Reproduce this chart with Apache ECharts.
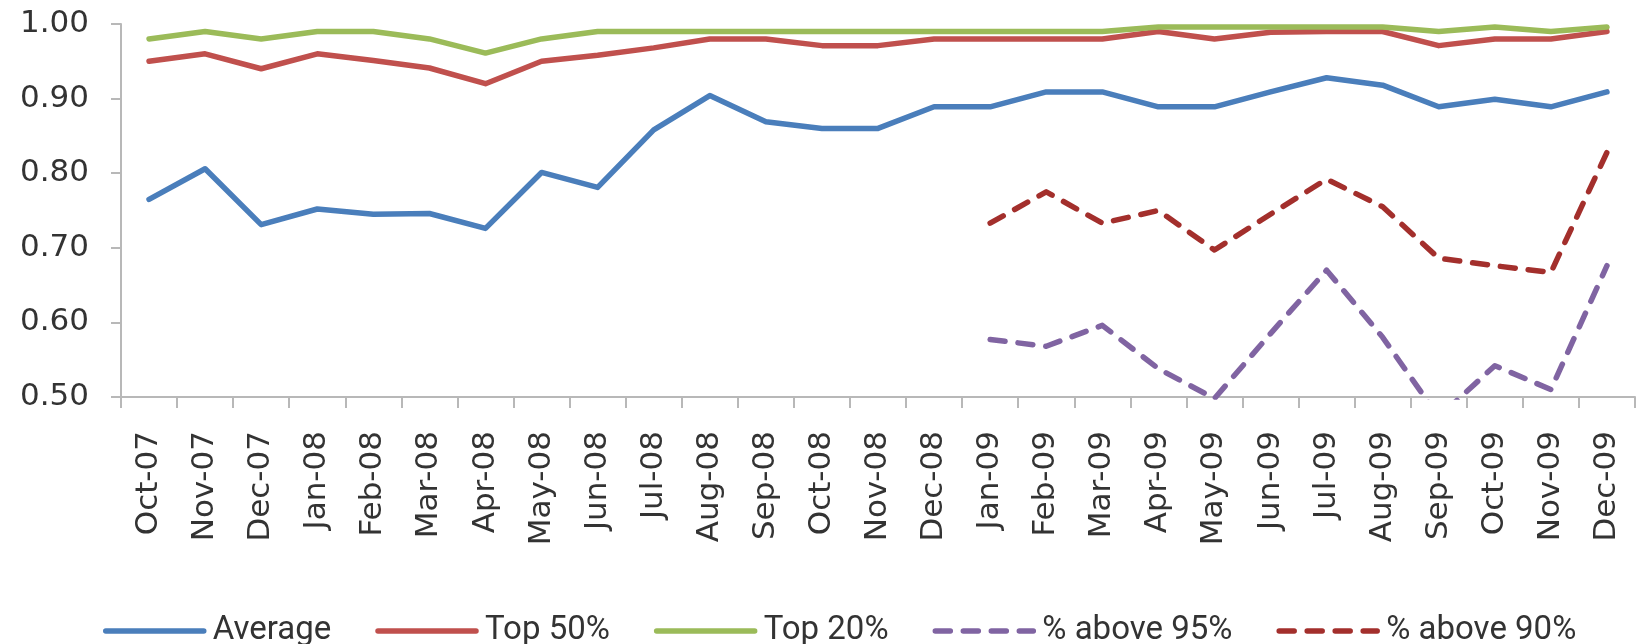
<!DOCTYPE html>
<html>
<head>
<meta charset="utf-8">
<script src="https://cdn.jsdelivr.net/npm/echarts@6/dist/echarts.min.js"></script>
<style>
  html, body { margin: 0; padding: 0; background: #ffffff; }
  #chart { width: 1646px; height: 644px; }
</style>
</head>
<body>
<div id="chart"></div>
<script>
// Monthly categories, Oct 2007 to Dec 2009
const months = [
  'Oct-07', 'Nov-07', 'Dec-07', 'Jan-08', 'Feb-08', 'Mar-08', 'Apr-08', 'May-08', 'Jun-08',
  'Jul-08', 'Aug-08', 'Sep-08', 'Oct-08', 'Nov-08', 'Dec-08', 'Jan-09', 'Feb-09', 'Mar-09',
  'Apr-09', 'May-09', 'Jun-09', 'Jul-09', 'Aug-09', 'Sep-09', 'Oct-09', 'Nov-09', 'Dec-09'
];

const average = [
  0.765, 0.806, 0.731, 0.752, 0.745, 0.746, 0.726, 0.801, 0.781,
  0.858, 0.904, 0.869, 0.860, 0.860, 0.889, 0.889, 0.909, 0.909,
  0.889, 0.889, 0.909, 0.928, 0.918, 0.889, 0.899, 0.889, 0.909
];

const top50 = [
  0.950, 0.960, 0.940, 0.960, 0.951, 0.941, 0.920, 0.950, 0.958,
  0.968, 0.980, 0.980, 0.971, 0.971, 0.980, 0.980, 0.980, 0.980,
  0.990, 0.980, 0.989, 0.990, 0.990, 0.971, 0.980, 0.980, 0.990
];

const top20 = [
  0.980, 0.990, 0.980, 0.990, 0.990, 0.980, 0.961, 0.980, 0.990,
  0.990, 0.990, 0.990, 0.990, 0.990, 0.990, 0.990, 0.990, 0.990,
  0.996, 0.996, 0.996, 0.996, 0.996, 0.990, 0.996, 0.990, 0.996
];

// Share of items above the thresholds, tracked from Jan-09 onward
const above95 = [
  null, null, null, null, null, null, null, null, null,
  null, null, null, null, null, null, 0.577, 0.568, 0.596,
  0.538, 0.498, 0.585, 0.670, 0.580, 0.473, 0.542, 0.510, 0.676
];

const above90 = [
  null, null, null, null, null, null, null, null, null,
  null, null, null, null, null, null, 0.733, 0.775, 0.733,
  0.750, 0.697, 0.745, 0.792, 0.755, 0.686, 0.676, 0.667, 0.828
];

const yTicks = { min: 0.5, max: 1.0, step: 0.1 };

const chart = echarts.init(document.getElementById('chart'), null, { renderer: 'canvas' });

const axisFont = '"DejaVu Sans", Verdana, sans-serif';
const textColor = '#333333';
const axisColor = '#b8b8b8';
const lineWidth = 5.5;
const dashPattern = [15, 13];

function solid(name, data, color) {
  return {
    name, type: 'line', data,
    symbol: 'none', showSymbol: false, connectNulls: false,
    lineStyle: { color, width: lineWidth, cap: 'round', join: 'round' },
    itemStyle: { color }
  };
}
function dashed(name, data, color) {
  return {
    name, type: 'line', data,
    symbol: 'none', showSymbol: false, connectNulls: false,
    lineStyle: { color, width: lineWidth, type: dashPattern, cap: 'round', join: 'round' },
    itemStyle: { color }
  };
}

chart.setOption({
  animation: false,
  backgroundColor: '#ffffff',
  grid: { left: 121, right: 11, top: 24, bottom: 247, containLabel: false },
  legend: {
    top: 609,
    left: 98,
    itemWidth: 98,
    itemHeight: 4,
    itemGap: 44,
    itemStyle: { opacity: 0 },
    lineStyle: { width: lineWidth, cap: 'round' },
    textStyle: {
      fontFamily: 'Roboto, "Open Sans", sans-serif', fontSize: 33,
      lineHeight: 34, color: textColor, padding: [0, 0, 0, 4]
    },
    data: ['Average', 'Top 50%', 'Top 20%', '% above 95%', '% above 90%']
  },
  xAxis: {
    type: 'category',
    data: months,
    boundaryGap: true,
    axisLine: { show: true, lineStyle: { color: axisColor, width: 2 } },
    axisTick: { show: true, interval: 0, length: 11, lineStyle: { color: axisColor, width: 2 } },
    axisLabel: {
      interval: 0, rotate: 90, margin: 34,
      fontFamily: axisFont, fontSize: 31, color: textColor
    },
    splitLine: { show: false }
  },
  yAxis: {
    type: 'value',
    min: yTicks.min, max: yTicks.max, interval: yTicks.step,
    axisLine: { show: true, lineStyle: { color: axisColor, width: 2 } },
    axisTick: { show: true, length: 10, lineStyle: { color: axisColor, width: 2 } },
    axisLabel: {
      margin: 32,
      fontFamily: axisFont, fontSize: 31, color: textColor,
      formatter: v => v.toFixed(2)
    },
    splitLine: { show: false }
  },
  series: [
    solid('Average', average, '#4a7ebb'),
    solid('Top 50%', top50, '#c0504d'),
    solid('Top 20%', top20, '#9bbb59'),
    dashed('% above 95%', above95, '#8064a2'),
    dashed('% above 90%', above90, '#a32f2c')
  ]
});
</script>
</body>
</html>
